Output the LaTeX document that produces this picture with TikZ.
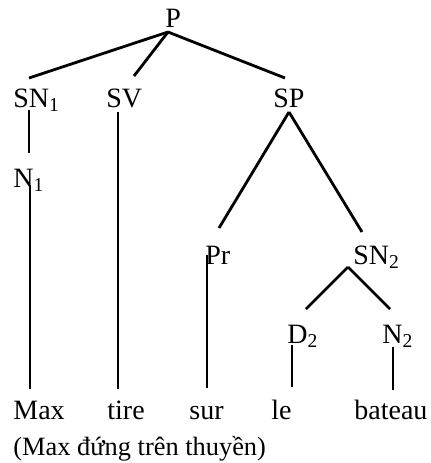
\documentclass[tikz,border=0pt]{standalone}
\usepackage{fontspec}
\setmainfont{Liberation Serif}
\usepackage{tikz}
\usetikzlibrary{calc}

\begin{document}
\begin{tikzpicture}[x=0.5pt, y=-0.5pt]
    % Styles:
    \tikzset{cat/.style={anchor=base west, inner sep=0pt, font=\fontsize{14}{16}\selectfont}}
    \tikzset{gloss/.style={anchor=base west, inner sep=0pt, font=\fontsize{13.2}{15}\selectfont}}
    \tikzset{branch/.style={line width=1.4pt}}

    \useasboundingbox (0,0) rectangle (431,463);

    % Categories:
    \node[cat] (p)   at (165,27)  {P};
    \node[cat] (sn1) at (13,107)  {SN\textsubscript{1}};
    \node[cat] (sv)  at (106,107) {SV};
    \node[cat] (sp)  at (273,107) {SP};
    \node[cat] (n1)  at (13,187)  {N\textsubscript{1}};
    \node[cat] (pr)  at (205,264) {Pr};
    \node[cat] (sn2) at (353,264) {SN\textsubscript{2}};
    \node[cat] (d2)  at (287,343) {D\textsubscript{2}};
    \node[cat] (n2)  at (382,343) {N\textsubscript{2}};

    % Words:
    \node[cat] (max)    at (13,419)  {Max};
    \node[cat] (tire)   at (107,419) {tire};
    \node[cat] (sur)    at (189,419) {sur};
    \node[cat] (le)     at (271,419) {le};
    \node[cat] (bateau) at (354,419) {bateau};
    \node[gloss] (trans) at (13,455) {(Max đứng trên thuyền)};

    % Branches, ends given from each label's baseline:
    \draw[branch] ($(p.base west)+(3,5)$)    -- ($(sn1.base west)+(16,-29)$);
    \draw[branch] ($(p.base west)+(3,5)$)    -- ($(sv.base west)+(28,-31)$);
    \draw[branch] ($(p.base west)+(3,5)$)    -- ($(sp.base west)+(12,-29)$);
    \draw[branch] ($(sn1.base west)+(16,3)$) -- ($(n1.base west)+(16,-34)$);
    \draw[branch] ($(n1.base west)+(17,-2)$) -- ($(max.base west)+(17,-30)$);
    \draw[branch] ($(sv.base west)+(12,5)$)  -- ($(tire.base west)+(11,-30)$);
    \draw[branch] ($(sp.base west)+(16,5)$)  -- ($(pr.base west)+(14,-36)$);
    \draw[branch] ($(sp.base west)+(16,5)$)  -- ($(sn2.base west)+(9,-32)$);
    \draw[branch] ($(pr.base west)+(2,-9)$)  -- ($(sur.base west)+(18,-31)$);
    \draw[branch] ($(sn2.base west)+(-5,3)$) -- ($(d2.base west)+(19,-34)$);
    \draw[branch] ($(sn2.base west)+(-5,3)$) -- ($(n2.base west)+(8,-34)$);
    \draw[branch] ($(d2.base west)+(5,2)$)   -- ($(le.base west)+(21,-32)$);
    \draw[branch] ($(n2.base west)+(11,4)$)  -- ($(bateau.base west)+(39,-29)$);
\end{tikzpicture}
\end{document}
